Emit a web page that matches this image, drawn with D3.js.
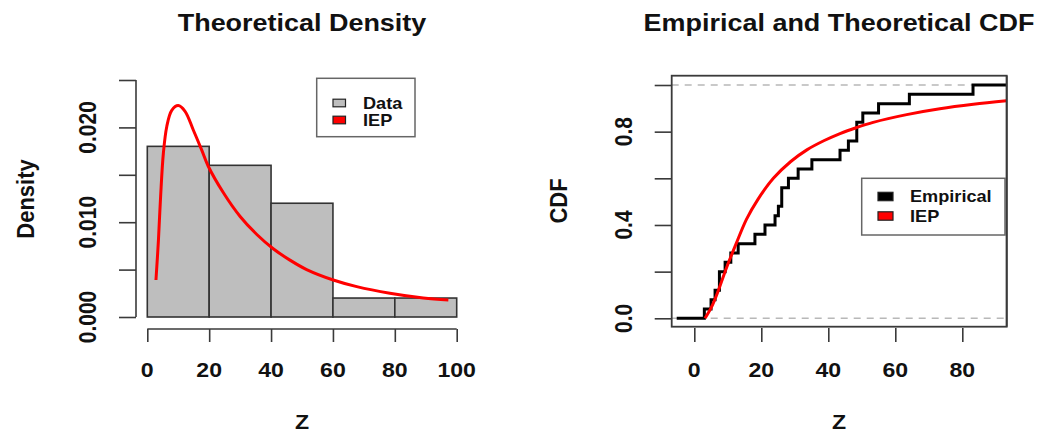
<!DOCTYPE html>
<html>
<head>
<meta charset="utf-8">
<script src="https://cdn.jsdelivr.net/npm/d3@7"></script>
<style>
  html, body { margin: 0; padding: 0; background: #fff; }
  svg text { font-family: "Liberation Sans", Arial, Helvetica, sans-serif; font-weight: bold; fill: #111; }
</style>
</head>
<body>
<svg id="chart" width="1037" height="432"></svg>
<script>
// ---------------- data ----------------
const histBreaks = [0, 20, 40, 60, 80, 100];
const histDensity = [0.018, 0.016, 0.012, 0.002, 0.002];
const densZ = [2.8, 3.6, 4.3, 5.2, 6.3, 7.9, 10.0, 12.2, 14.9, 17.6, 19.7, 24.6, 30.0, 35.4, 40.7, 46.1, 51.5, 60.1, 67.7, 78.4, 89.2, 97.3];
const densY = [0.0039, 0.0081, 0.0127, 0.0173, 0.0201, 0.0218, 0.0223, 0.0217, 0.0197, 0.0176, 0.0159, 0.0131, 0.0106, 0.0087, 0.0072, 0.0060, 0.0050, 0.0039, 0.0032, 0.0025, 0.0020, 0.0018];
const sampleZ = [3.0, 5.0, 6.2, 7.5, 7.5, 9.2, 10.9, 13.1, 18.1, 21.1, 24.1, 25.1, 26.1, 26.1, 28.1, 31.0, 35.1, 43.5, 46.0, 48.5, 48.5, 50.3, 55.0, 64.2, 83.2];
const cdfZ = [3.2, 5.2, 7.2, 9.7, 12.5, 15.6, 19.0, 23.6, 28.8, 33.6, 38.8, 43.5, 48.5, 53.4, 63.4, 73.3, 83.3, 93.2];
const cdfF = [0, 0.05, 0.12, 0.22, 0.32, 0.425, 0.51, 0.60, 0.672, 0.722, 0.762, 0.792, 0.818, 0.840, 0.873, 0.898, 0.917, 0.932];
const leftXTicks = [0, 20, 40, 60, 80, 100];
const leftYTicks = [0, 0.005, 0.010, 0.015, 0.020, 0.025];
const leftYLabels = ["0.000", "0.010", "0.020"];
const rightXTicks = [0, 20, 40, 60, 80];
const rightYTicks = [0, 0.2, 0.4, 0.6, 0.8, 1.0];
const rightYLabels = ["0.0", "0.4", "0.8"];
const legendLeft = ["Data", "IEP"];
const legendRight = ["Empirical", "IEP"];

// ---------------- setup ----------------
const svg = d3.select("#chart");
const SX = 1.1;
const AX = "#3a3a3a";

function txt(x, y, s, size, opts = {}) {
  return svg.append("text")
    .attr("transform", `translate(${x},${y}) scale(${SX},1)` + (opts.rot ? " rotate(-90)" : ""))
    .attr("text-anchor", opts.anchor || "middle")
    .attr("dy", "0.36em")
    .style("font-size", size + "px")
    .text(s);
}

// ---------------- left panel ----------------
const xL = d3.scaleLinear().domain([0, 100]).range([147.3, 456.7]);
const yL = d3.scaleLinear().domain([0, 0.025]).range([317, 80]);

const bins = histDensity.map((d, i) => ({ x0: histBreaks[i], x1: histBreaks[i + 1], d }));
svg.append("g").selectAll("rect").data(bins).join("rect")
  .attr("x", b => xL(b.x0)).attr("y", b => yL(b.d))
  .attr("width", b => xL(b.x1) - xL(b.x0)).attr("height", b => yL(0) - yL(b.d))
  .attr("fill", "#bebebe").attr("stroke", "#333").attr("stroke-width", 1.6);

svg.append("path")
  .datum(densZ.map((z, i) => [z, densY[i]]))
  .attr("d", d3.line().x(d => xL(d[0])).y(d => yL(d[1])).curve(d3.curveCatmullRom.alpha(0.5)))
  .attr("fill", "none").attr("stroke", "#ff0000").attr("stroke-width", 3);

// x axis (offset below)
const xAxisL = svg.append("g").attr("transform", "translate(0,329)")
  .call(d3.axisBottom(xL).tickValues(leftXTicks).tickSize(13).tickFormat(""));
xAxisL.selectAll("path,line").attr("stroke", AX).attr("stroke-width", 1.6);
xAxisL.select(".domain").attr("d", `M${xL(0)},0H${xL(100)}`);
leftXTicks.forEach(v => txt(xL(v), 369, String(v), 21));

// y axis
const yAxisL = svg.append("g").attr("transform", "translate(136,0)")
  .call(d3.axisLeft(yL).tickValues(leftYTicks).tickSize(17).tickFormat(""));
yAxisL.selectAll("path,line").attr("stroke", AX).attr("stroke-width", 1.6);
yAxisL.select(".domain").attr("d", `M0,${yL(0)}V${yL(0.025)}`);
leftYLabels.forEach(s => txt(87.5, yL(+s), s, 21, { rot: true }));

txt(302, 22, "Theoretical Density", 24.5);
txt(302, 421, "Z", 21);
txt(25, 199, "Density", 22, { rot: true });

// legend left
svg.append("rect").attr("x", 316.7).attr("y", 78.3).attr("width", 98.3).attr("height", 58.4)
  .attr("fill", "#fff").attr("stroke", "#666").attr("stroke-width", 1.5);
const legCol = ["#bebebe", "#ff0000"];
legendLeft.forEach((s, i) => {
  const cy = 103 + i * 17;
  svg.append("rect").attr("x", 333).attr("y", cy - 3.8).attr("width", 12.5).attr("height", 7.6)
    .attr("fill", legCol[i]).attr("stroke", "#222").attr("stroke-width", 1.2);
  txt(363, cy, s, 16.5, { anchor: "start" });
});

// ---------------- right panel ----------------
const xR = d3.scaleLinear().domain([0, 80]).range([694.3, 962.3]);
const yR = d3.scaleLinear().domain([0, 1]).range([318.3, 85]);
const zLo = xR.invert(671.7), zHi = xR.invert(1006.7);

// dashed reference lines
svg.append("g").selectAll("line").data([0, 1]).join("line")
  .attr("x1", xR(zLo)).attr("x2", xR(zHi)).attr("y1", d => yR(d)).attr("y2", d => yR(d))
  .attr("stroke", "#b8b8b8").attr("stroke-width", 1.4).attr("stroke-dasharray", "7,6");

// ECDF
const sorted = sampleZ.slice().sort(d3.ascending);
const uniq = Array.from(new Set(sorted));
const n = sorted.length;
const ecdfPts = [[xR.invert(676.7), 0]]
  .concat(uniq.map(v => [v, d3.bisectRight(sorted, v) / n]))
  .concat([[zHi, 1]]);
svg.append("path").datum(ecdfPts)
  .attr("d", d3.line().x(d => xR(d[0])).y(d => yR(d[1])).curve(d3.curveStepAfter))
  .attr("fill", "none").attr("stroke", "#000").attr("stroke-width", 3);

// theoretical CDF
svg.append("path")
  .datum(cdfZ.map((z, i) => [z, cdfF[i]]))
  .attr("d", d3.line().x(d => xR(d[0])).y(d => yR(d[1])).curve(d3.curveCatmullRom.alpha(0.5)))
  .attr("fill", "none").attr("stroke", "#ff0000").attr("stroke-width", 3);

// box
svg.append("rect").attr("x", 671.7).attr("y", 75.7).attr("width", 1006.7 - 671.7).attr("height", 326.7 - 75.7)
  .attr("fill", "none").attr("stroke", AX).attr("stroke-width", 1.8);

// axes ticks
const xAxisR = svg.append("g").attr("transform", "translate(0,328)")
  .call(d3.axisBottom(xR).tickValues(rightXTicks).tickSize(14).tickFormat(""));
xAxisR.selectAll("line").attr("stroke", AX).attr("stroke-width", 1.6);
xAxisR.select(".domain").remove();
rightXTicks.forEach(v => txt(xR(v), 369, String(v), 21));

const yAxisR = svg.append("g").attr("transform", "translate(671.7,0)")
  .call(d3.axisLeft(yR).tickValues(rightYTicks).tickSize(17).tickFormat(""));
yAxisR.selectAll("line").attr("stroke", AX).attr("stroke-width", 1.6);
yAxisR.select(".domain").remove();
rightYLabels.forEach(s => txt(623.3, yR(+s), s, 21, { rot: true }));

txt(839, 22, "Empirical and Theoretical CDF", 24.5);
txt(839, 421, "Z", 21);
txt(558, 201, "CDF", 22, { rot: true });

// legend right
svg.append("rect").attr("x", 861.7).attr("y", 178.3).attr("width", 1005 - 861.7).attr("height", 56.7)
  .attr("fill", "#fff").attr("stroke", "#666").attr("stroke-width", 1.5);
const legColR = ["#000", "#ff0000"];
legendRight.forEach((s, i) => {
  const cy = 196.5 + i * 19.5;
  svg.append("rect").attr("x", 878).attr("y", cy - 4.2).attr("width", 15).attr("height", 8.4)
    .attr("fill", legColR[i]).attr("stroke", "#222").attr("stroke-width", 1.2);
  txt(910, cy, s, 16.5, { anchor: "start" });
});
// box right edge over legend
svg.append("line").attr("x1", 1006.7).attr("x2", 1006.7).attr("y1", 75.7).attr("y2", 326.7)
  .attr("stroke", AX).attr("stroke-width", 1.8);
</script>
</body>
</html>
